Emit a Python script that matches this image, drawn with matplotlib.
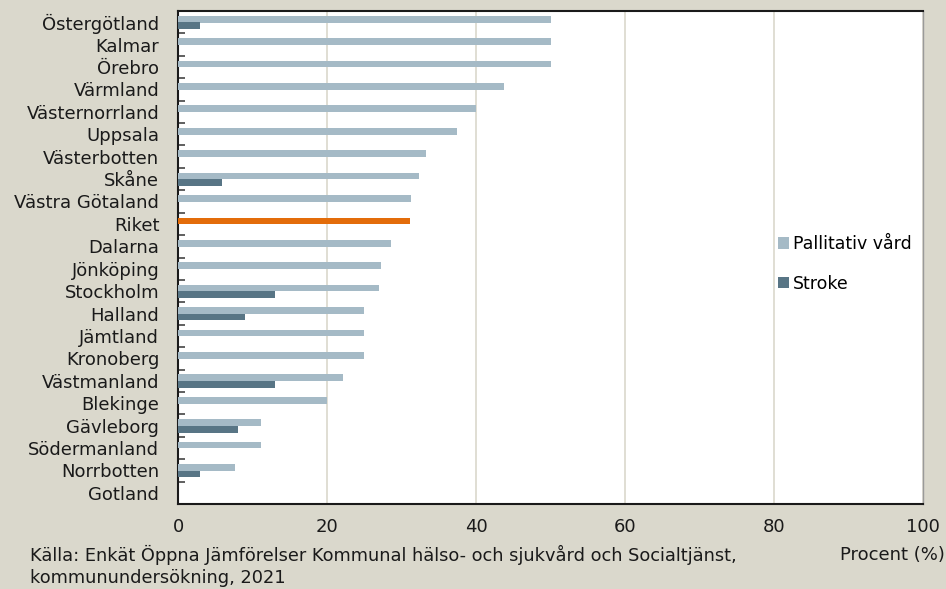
import numpy as np
import matplotlib
matplotlib.use("Agg")
import matplotlib.pyplot as plt
from matplotlib.patches import Patch

# Andel per län, procent
lan = ['Östergötland', 'Kalmar', 'Örebro', 'Värmland', 'Västernorrland', 'Uppsala',
       'Västerbotten', 'Skåne', 'Västra Götaland', 'Riket', 'Dalarna', 'Jönköping',
       'Stockholm', 'Halland', 'Jämtland', 'Kronoberg', 'Västmanland', 'Blekinge',
       'Gävleborg', 'Södermanland', 'Norrbotten', 'Gotland']
pallitativ = [50, 50, 50, 43.8, 40, 37.5, 33.3, 32.3, 31.3, 31.1, 28.6, 27.3,
              27.0, 25, 25, 25, 22.2, 20, 11.1, 11.1, 7.7, 0]
stroke = [3.0, 0, 0, 0, 0, 0, 0, 5.9, 0, 0, 0, 0,
          13.0, 9.0, 0, 0, 13.0, 0, 8.0, 0, 3.0, 0]

bg = '#DAD8CC'
c_pall = '#A5BAC6'
c_stroke = '#587585'
c_riket = '#E36C0A'

plt.rcParams['font.family'] = ['DejaVu Sans']
plt.rcParams['font.size'] = 12

fig = plt.figure(figsize=(9.46, 5.89), dpi=100, facecolor=bg)
ax = fig.add_axes([0.1882, 0.1443, 0.9757 - 0.1882, 0.9813 - 0.1443])
ax.set_facecolor('white')

y = np.arange(len(lan))
h = 0.3
farger = [c_riket if namn == 'Riket' else c_pall for namn in lan]
ax.barh(y - 0.135, pallitativ, height=h, color=farger, linewidth=0, zorder=3)
ax.barh(y + 0.16, stroke, height=h, color=c_stroke, linewidth=0, zorder=3)

ax.set_xlim(0, 100)
ax.set_ylim(len(lan) - 0.5, -0.5)
ax.set_xticks([0, 20, 40, 60, 80, 100])
ax.tick_params(axis='x', length=0, pad=10, labelsize=13, colors='#1a1a1a')
ax.grid(axis='x', color='#DAD8CC', linewidth=1.2, zorder=0)

# länsnamn vid kategorins mitt, streck mellan kategorierna
ax.set_yticks(y[:-1] + 0.5)
ax.set_yticklabels([])
ax.tick_params(axis='y', which='major', direction='in', length=5, width=1.2, color='#444444')
ax.set_yticks(y, minor=True)
ax.set_yticklabels(lan, minor=True)
ax.tick_params(axis='y', which='minor', length=0, pad=13.5, labelsize=13, colors='#1a1a1a')

for side in ['left', 'bottom', 'top']:
    ax.spines[side].set_color('#1a1a1a')
    ax.spines[side].set_linewidth(1.5)
ax.spines['right'].set_color('#9a9a9a')
ax.spines['right'].set_linewidth(1)

handles = [Patch(facecolor=c_pall), Patch(facecolor=c_stroke)]
ax.legend(handles, ['Pallitativ vård', 'Stroke'], loc='center left',
          bbox_to_anchor=(0.805, 0.487), frameon=False, fontsize=12.5,
          handlelength=0.65, handleheight=0.65, handletextpad=0.25,
          labelspacing=1.25, borderpad=0, borderaxespad=0)

fig.text(30 / 946, 1 - 555 / 589,
         'Källa: Enkät Öppna Jämförelser Kommunal hälso- och sjukvård och Socialtjänst,',
         ha='left', va='center', fontsize=12.8, color='#1a1a1a')
fig.text(30 / 946, 1 - 578 / 589, 'kommunundersökning, 2021',
         ha='left', va='center', fontsize=12.8, color='#1a1a1a')
fig.text(945 / 946, 1 - 555 / 589, 'Procent (%)', ha='right', va='center',
         fontsize=13, color='#1a1a1a')

fig.savefig('out.png', dpi=100, facecolor=bg)
